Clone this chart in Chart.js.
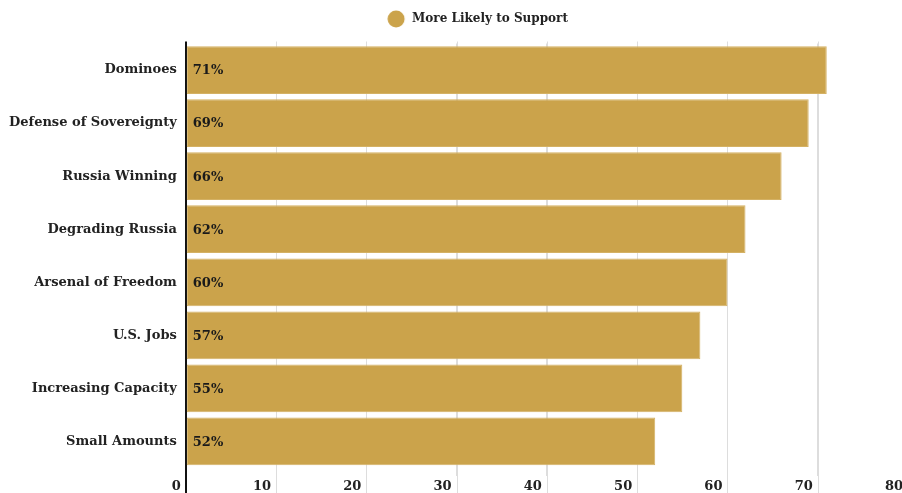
<!DOCTYPE html>
<html>
<head>
<meta charset="utf-8">
<script src="https://cdn.jsdelivr.net/npm/chart.js@4"></script>
<style>
html,body{margin:0;padding:0;background:#fff;overflow:hidden;width:902px;height:493px;}
#wrap{position:absolute;left:0;top:0;width:955px;height:493px;}
</style>
</head>
<body>
<div id="wrap"><canvas id="c" width="955" height="493"></canvas></div>
<script>
const categories = ["Dominoes","Defense of Sovereignty","Russia Winning","Degrading Russia","Arsenal of Freedom","U.S. Jobs","Increasing Capacity","Small Amounts"];
const values = [71, 69, 66, 62, 60, 57, 55, 52];
const valueLabels = ["71%","69%","66%","62%","60%","57%","55%","52%"];
const seriesName = "More Likely to Support";
const xTicks = [0,10,20,30,40,50,60,70,80];

const FONT = "'DejaVu Serif', serif";
const BAR_COLOR = '#CBA34B';
const gridColor = v => v === 0 ? '#111' : '#dddddd';
const gridWidth = v => v === 0 ? 2 : 1;

// legend marker: a circle drawn slightly left inside a wider sprite
const marker = document.createElement('canvas');
marker.width = 26; marker.height = 18;
(() => {
  const m = marker.getContext('2d');
  m.fillStyle = BAR_COLOR;
  m.beginPath();
  m.arc(9, 9, 8.5, 0, Math.PI * 2);
  m.fill();
})();

const barLabels = {
  id: 'barLabels',
  afterLayout(chart){
    const lg = chart.legend;
    if (lg) { lg.left += 27; lg.right += 27; }
  },
  beforeDatasetsDraw(chart){
    const ctx = chart.ctx, xs = chart.scales.x, area = chart.chartArea;
    ctx.save();
    xTicks.forEach(v => {
      const px = Math.round(xs.getPixelForValue(v)) + (v === 0 ? 0 : 0.5);
      ctx.beginPath();
      ctx.strokeStyle = gridColor(v);
      ctx.lineWidth = gridWidth(v);
      ctx.moveTo(px, area.top - 2);
      ctx.lineTo(px, chart.height);
      ctx.stroke();
    });
    ctx.restore();
  },
  afterDatasetsDraw(chart){
    const ctx = chart.ctx;
    const meta = chart.getDatasetMeta(0);
    ctx.save();
    ctx.font = "bold 13px " + FONT;
    ctx.fillStyle = "#1a1a1a";
    ctx.textAlign = "left";
    ctx.textBaseline = "middle";
    meta.data.forEach((bar, i) => {
      ctx.fillText(valueLabels[i], bar.base + 6, bar.y + 1);
    });
    ctx.restore();
  }
};

new Chart(document.getElementById('c'), {
  type: 'bar',
  data: {
    labels: categories,
    datasets: [{
      label: seriesName,
      data: values,
      backgroundColor: BAR_COLOR,
      borderColor: '#D4B164',
      borderWidth: 1,
      borderSkipped: false,
      categoryPercentage: 0.9,
      barPercentage: 1.0,
      pointStyle: marker
    }]
  },
  options: {
    indexAxis: 'y',
    responsive: false,
    animation: false,
    layout: { padding: { top: 3, right: 47, left: 0, bottom: 0 } },
    plugins: {
      legend: {
        display: true,
        position: 'top',
        labels: {
          usePointStyle: true,
          boxWidth: 16,
          boxHeight: 16,
          color: '#222',
          font: { family: FONT, weight: 'bold', size: 12 },
          padding: 10
        }
      },
      tooltip: { enabled: false }
    },
    scales: {
      x: {
        min: 0, max: 80,
        ticks: {
          stepSize: 10,
          align: 'end',
          labelOffset: -5,
          padding: 3,
          color: '#222',
          font: { family: FONT, weight: 'bold', size: 13 },
          maxRotation: 0,
          autoSkip: false,
          callback: v => xTicks.includes(v) ? String(v) : ''
        },
        grid: {
          color: ctx => gridColor(ctx.tick ? ctx.tick.value : 1),
          lineWidth: ctx => gridWidth(ctx.tick ? ctx.tick.value : 1),
          drawTicks: true,
          tickLength: 8
        },
        border: { display: false },
        afterFit(axis){ axis.height = 25; }
      },
      xTop: {
        type: 'linear',
        position: 'top',
        display: true,
        grid: { display: false, drawTicks: false },
        border: { display: false },
        ticks: { display: false },
        afterFit(axis){ axis.height = 8.5; }
      },
      y: {
        grid: { display: false, drawTicks: false },
        border: { display: true, color: '#111', width: 2 },
        ticks: {
          padding: 9,
          color: '#222',
          font: { family: FONT, weight: 'bold', size: 13 }
        }
      }
    }
  },
  plugins: [barLabels]
});
</script>
</body>
</html>
